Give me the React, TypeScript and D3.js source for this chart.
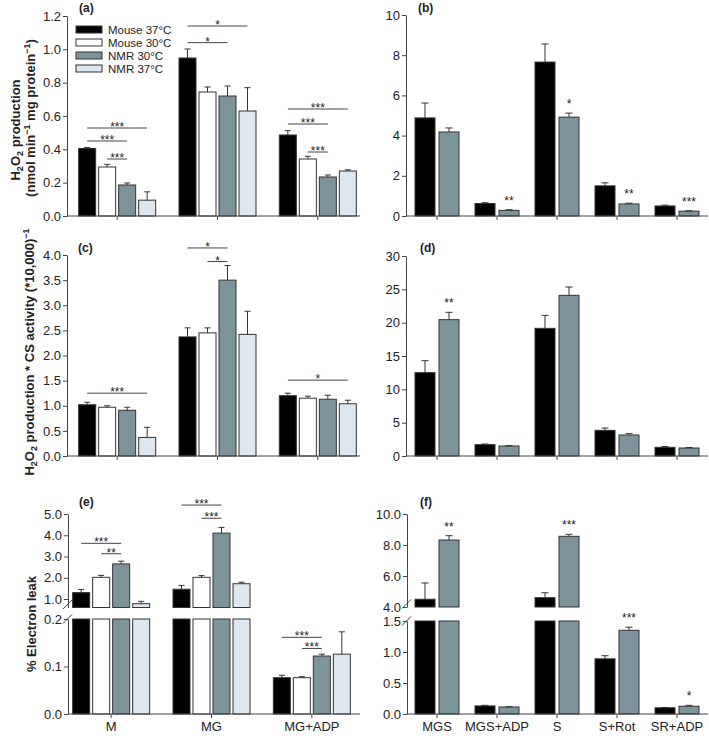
import React, { useEffect, useRef } from "react";
import * as d3 from "d3";

const FONT = "'Liberation Sans', Arial, sans-serif";

const leftGroups = ["M", "MG", "MG+ADP"];
const rightGroups = ["MGS", "MGS+ADP", "S", "S+Rot", "SR+ADP"];
const leftSeries = ["Mouse 37°C", "Mouse 30°C", "NMR 30°C", "NMR 37°C"];
const leftColors = ["#000000", "#ffffff", "#7d949b", "#dee7ed"];
const rightColors = ["#000000", "#7d949b"];

// rows = series, columns = groups
const aMeans = [
  [0.405, 0.948, 0.486],
  [0.294, 0.744, 0.342],
  [0.186, 0.72, 0.234],
  [0.095, 0.63, 0.27],
];
const aSems = [
  [0.006, 0.054, 0.026],
  [0.016, 0.03, 0.016],
  [0.012, 0.06, 0.012],
  [0.05, 0.14, 0.007],
];
// [group, from series, to series, level, stars]
const aSig = [
  [0, 0, 3, 0.528, "***"],
  [0, 0, 2, 0.45, "***"],
  [0, 1, 2, 0.342, "***"],
  [1, 0, 3, 1.14, "*"],
  [1, 0, 2, 1.04, "*"],
  [2, 0, 3, 0.642, "***"],
  [2, 0, 2, 0.552, "***"],
  [2, 1, 2, 0.384, "***"],
];

const bMeans = [
  [4.88, 0.62, 7.66, 1.5, 0.5],
  [4.18, 0.28, 4.92, 0.6, 0.24],
];
const bSems = [
  [0.74, 0.04, 0.9, 0.15, 0.04],
  [0.2, 0.03, 0.2, 0.04, 0.02],
];
const bStars = ["", "**", "*", "**", "***"];

const cMeans = [
  [1.02, 2.37, 1.2],
  [0.97, 2.45, 1.15],
  [0.91, 3.5, 1.13],
  [0.37, 2.42, 1.04],
];
const cSems = [
  [0.05, 0.18, 0.05],
  [0.03, 0.1, 0.04],
  [0.06, 0.29, 0.08],
  [0.2, 0.46, 0.07],
];
const cSig = [
  [0, 0, 3, 1.25, "***"],
  [1, 0, 2, 4.14, "*"],
  [1, 1, 2, 3.87, "*"],
  [2, 0, 3, 1.51, "*"],
];

const dMeans = [
  [12.5, 1.7, 19.15, 3.85, 1.3],
  [20.45, 1.5, 24.1, 3.15, 1.2],
];
const dSems = [
  [1.8, 0.1, 1.95, 0.35, 0.12],
  [1.1, 0.05, 1.25, 0.2, 0.08],
];
const dStars = ["**", "", "", "", ""];

const eMeans = [
  [1.3, 1.46, 0.0765],
  [2.02, 2.02, 0.0765],
  [2.65, 4.1, 0.122],
  [0.78, 1.72, 0.126],
];
const eSems = [
  [0.15, 0.18, 0.005],
  [0.09, 0.08, 0.002],
  [0.13, 0.27, 0.004],
  [0.11, 0.07, 0.047],
];
const eSig = [
  [0, 0, 2, 3.62, "***"],
  [0, 1, 2, 3.13, "**"],
  [1, 0, 2, 5.42, "***"],
  [1, 1, 2, 4.8, "***"],
  [2, 0, 2, 0.1614, "***"],
  [2, 1, 2, 0.138, "***"],
];

const fMeans = [
  [4.5, 0.13, 4.6, 0.89, 0.1],
  [8.32, 0.113, 8.56, 1.35, 0.125],
];
const fSems = [
  [1.05, 0.01, 0.32, 0.05, 0.005],
  [0.28, 0.004, 0.13, 0.05, 0.015],
];
const fStars = ["**", "", "***", "***", "*"];

function AxisG({ axis, transform, hideDomain = false }: any) {
  const ref = useRef<SVGGElement>(null);
  useEffect(() => {
    const g = d3.select(ref.current);
    g.selectAll("*").remove();
    g.call(axis);
    g.attr("font-size", 13).attr("font-family", FONT);
    g.selectAll("text").attr("fill", "#222");
    g.selectAll("line,path").attr("stroke", "#444");
    if (hideDomain) g.select(".domain").remove();
  });
  return <g ref={ref} transform={transform} />;
}

function Panel(p: any) {
  const x = d3.scaleBand().domain(p.groups).range(p.xRange);
  const bw = x.bandwidth();
  const n = p.means.length;
  const yL = d3.scaleLinear().domain(p.lower.domain).range(p.lower.range);
  const yU = p.upper ? d3.scaleLinear().domain(p.upper.domain).range(p.upper.range) : null;
  const lowMax = p.lower.domain[1];
  const y = (v: number, ref: number) => (yU && ref > lowMax ? yU(v) : yL(v));
  const cx = (g: number, i: number) => (x(p.groups[g]) as number) + bw / 2 + (i - (n - 1) / 2) * p.step;
  const base = yL(0);

  const bars: any[] = [];
  p.means.forEach((row: number[], i: number) =>
    row.forEach((v: number, g: number) => {
      const left = cx(g, i) - p.barW / 2;
      const props = { fill: p.colors[i], stroke: "#333", strokeWidth: 1 };
      if (!yU || v <= lowMax) {
        bars.push(<rect key={`b${i}-${g}`} x={left} width={p.barW} y={yL(v)} height={base - yL(v)} {...props} />);
      } else {
        const lt = p.lower.range[1];
        bars.push(<rect key={`bl${i}-${g}`} x={left} width={p.barW} y={lt} height={base - lt} {...props} />);
        const ub = p.upper.range[0];
        bars.push(<rect key={`bu${i}-${g}`} x={left} width={p.barW} y={yU(v)} height={ub - yU(v)} {...props} />);
      }
      const s = p.sems[i][g];
      const yt = y(v + s, v);
      const yb = y(v, v);
      bars.push(
        <g key={`e${i}-${g}`} stroke="#333" strokeWidth={1}>
          <line x1={cx(g, i)} x2={cx(g, i)} y1={yb} y2={yt} />
          <line x1={cx(g, i) - p.cap / 2} x2={cx(g, i) + p.cap / 2} y1={yt} y2={yt} />
        </g>
      );
    })
  );

  const sig = (p.sig || []).map((d: any, k: number) => {
    const [g, a, b, lvl, txt] = d;
    const ly = y(lvl, lvl);
    return (
      <g key={`s${k}`}>
        <line x1={cx(g, a)} x2={cx(g, b)} y1={ly} y2={ly} stroke="#444" strokeWidth={1} />
        <text x={(cx(g, a) + cx(g, b)) / 2} y={ly + 3} textAnchor="middle" fontSize={12} fill="#222">
          {txt}
        </text>
      </g>
    );
  });

  const stars = (p.stars || []).map((t: string, g: number) => {
    if (!t) return null;
    const i = n - 1;
    const v = p.means[i][g];
    const yt = y(v + p.sems[i][g], v);
    return (
      <text key={`st${g}`} x={cx(g, i)} y={yt - 5} textAnchor="middle" fontSize={12} fill="#222">
        {t}
      </text>
    );
  });

  const fmt = d3.format(p.fmt);
  const axes: any[] = [
    <AxisG
      key="yl"
      transform={`translate(${p.axisX},0)`}
      axis={d3.axisLeft(yL).tickValues(p.lower.ticks).tickFormat(fmt).tickSize(4).tickSizeOuter(0).tickPadding(2)}
    />,
  ];
  if (yU) {
    axes.push(
      <AxisG
        key="yu"
        transform={`translate(${p.axisX},0)`}
        axis={d3.axisLeft(yU).tickValues(p.upper.ticks).tickFormat(fmt).tickSize(4).tickSizeOuter(0).tickPadding(2)}
      />
    );
    const c1 = p.upper.range[0] - 3;
    const c2 = p.lower.range[1];
    [c1, c2].forEach((cy, k) =>
      axes.push(
        <line key={`br${k}`} x1={p.axisX - 5} x2={p.axisX + 4} y1={cy + 4.5} y2={cy - 4.5} stroke="#444" strokeWidth={1} />
      )
    );
  }
  axes.push(
    <AxisG
      key="x"
      hideDomain
      transform={`translate(0,${base})`}
      axis={d3.axisBottom(x).tickSize(4).tickSizeOuter(0).tickPadding(4).tickFormat(p.xLabels ? (d: string) => d : () => "")}
    />
  );
  axes.push(<line key="xl" x1={p.axisX} x2={p.axisEnd} y1={base} y2={base} stroke="#444" strokeWidth={1} />);

  return (
    <g>
      {bars}
      {axes}
      {sig}
      {stars}
      <text x={p.tagX} y={p.tagY} fontSize={12} fontWeight="bold" fill="#222">
        {p.tag}
      </text>
    </g>
  );
}

// parts: [text, level] with level 0 normal, 1 subscript, -1 superscript
function rich(parts: [string, number][]) {
  let prev = 0;
  return parts.map(([t, lvl], k) => {
    const off = lvl === 1 ? 3 : lvl === -1 ? -5 : 0;
    const dy = off - prev;
    prev = off;
    return (
      <tspan key={k} dy={dy} fontSize={lvl ? 9 : undefined}>
        {t}
      </tspan>
    );
  });
}

function Legend() {
  return (
    <g>
      {leftSeries.map((s, i) => (
        <g key={s} transform={`translate(76,${29.5 + i * 13})`}>
          <rect x={0} y={-3.5} width={26} height={7} fill={leftColors[i]} stroke="#333" />
          <text x={32} y={4} fontSize={11.5} fill="#222">
            {s}
          </text>
        </g>
      ))}
    </g>
  );
}

export default function App() {
  const left = { groups: leftGroups, colors: leftColors, barW: 17, step: 20, cap: 6, axisEnd: 360, fmt: ".1f" };
  const right = { groups: rightGroups, colors: rightColors, barW: 20, step: 24, cap: 7, axisEnd: 708, xRange: [407, 707] };
  return (
    <svg width={709} height={736} style={{ position: "absolute", left: 0, top: 0, background: "#fff" }} fontFamily={FONT}>
      <Panel
        {...left}
        means={aMeans}
        sems={aSems}
        sig={aSig}
        axisX={67}
        xRange={[67, 368]}
        lower={{ domain: [0, 1.2], range: [216, 16], ticks: [0, 0.2, 0.4, 0.6, 0.8, 1.0, 1.2] }}
        tag="(a)"
        tagX={79}
        tagY={12}
      />
      <Legend />
      <Panel
        {...right}
        means={bMeans}
        sems={bSems}
        stars={bStars}
        axisX={406}
        fmt="d"
        lower={{ domain: [0, 10], range: [216, 15], ticks: [0, 2, 4, 6, 8, 10] }}
        tag="(b)"
        tagX={418}
        tagY={12}
      />
      <Panel
        {...left}
        means={cMeans}
        sems={cSems}
        sig={cSig}
        axisX={67}
        xRange={[67, 368]}
        lower={{ domain: [0, 4], range: [456, 255], ticks: [0, 0.5, 1, 1.5, 2, 2.5, 3, 3.5, 4] }}
        tag="(c)"
        tagX={78}
        tagY={252}
      />
      <Panel
        {...right}
        means={dMeans}
        sems={dSems}
        stars={dStars}
        axisX={406}
        fmt="d"
        lower={{ domain: [0, 30], range: [456, 256], ticks: [0, 5, 10, 15, 20, 25, 30] }}
        tag="(d)"
        tagX={420}
        tagY={252}
      />
      <Panel
        {...left}
        means={eMeans}
        sems={eSems}
        sig={eSig}
        axisX={68}
        xRange={[61, 362]}
        xLabels
        lower={{ domain: [0, 0.2], range: [714, 619], ticks: [0, 0.1, 0.2] }}
        upper={{ domain: [0.6, 5], range: [607.5, 514], ticks: [1, 2, 3, 4, 5] }}
        tag="(e)"
        tagX={79}
        tagY={506}
      />
      <Panel
        {...right}
        means={fMeans}
        sems={fSems}
        stars={fStars}
        axisX={407}
        fmt=".1f"
        xLabels
        lower={{ domain: [0, 1.5], range: [714, 621], ticks: [0, 0.5, 1, 1.5] }}
        upper={{ domain: [4, 10], range: [607, 514], ticks: [4, 6, 8, 10] }}
        tag="(f)"
        tagX={420}
        tagY={506}
      />

      <g fontWeight="bold" fontSize={13} fill="#222" textAnchor="middle">
        <text transform="translate(20,130) rotate(-90)">
          {rich([["H", 0], ["2", 1], ["O", 0], ["2", 1], [" production", 0]])}
        </text>
        <text transform="translate(35,118) rotate(-90)">
          {rich([["(nmol min", 0], ["−1", -1], [" mg protein", 0], ["−1", -1], [")", 0]])}
        </text>
        <text transform="translate(34,352) rotate(-90)">
          {rich([["H", 0], ["2", 1], ["O", 0], ["2", 1], [" production * CS activity (*10,000)", 0], ["−1", -1]])}
        </text>
        <text transform="translate(36,624) rotate(-90)">% Electron leak</text>
      </g>
    </svg>
  );
}
